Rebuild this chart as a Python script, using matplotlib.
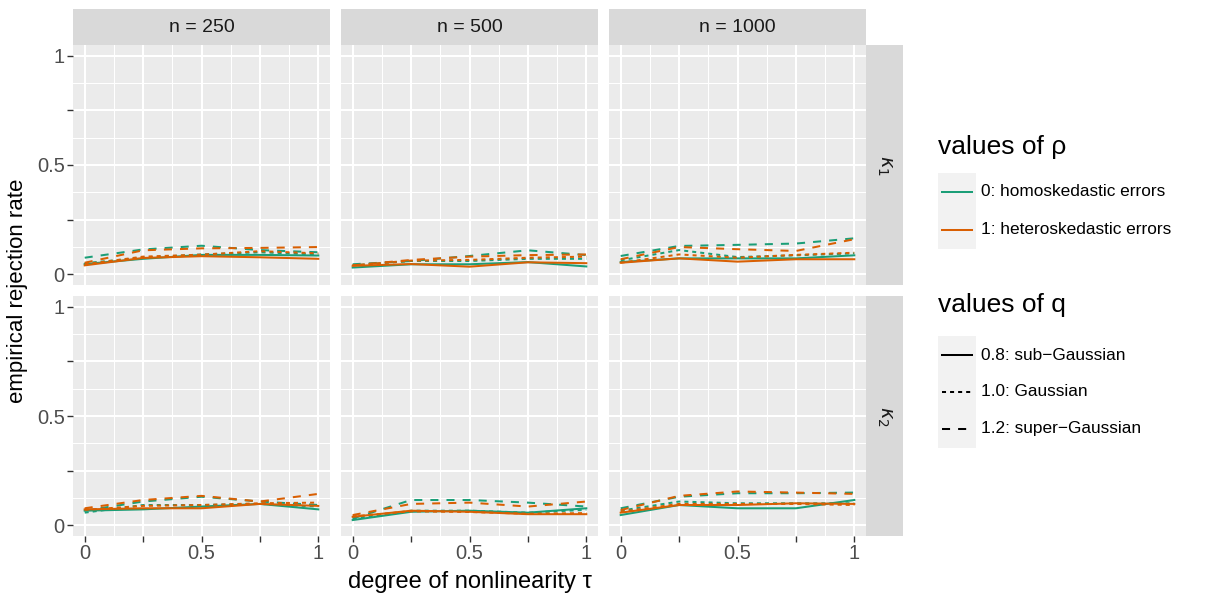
import matplotlib
matplotlib.use('Agg')
import matplotlib.pyplot as plt
from matplotlib.patches import Rectangle
from matplotlib.lines import Line2D

plt.rcParams['font.family'] = ['Liberation Sans', 'DejaVu Sans']

# данные
tau = [0, 0.25, 0.5, 0.75, 1]
n_labels = ['n = 250', 'n = 500', 'n = 1000']
kappa_labels = [r'$\kappa_1$', r'$\kappa_2$']
rho_labels = ['0: homoskedastic errors', '1: heteroskedastic errors']
q_labels = ['0.8: sub\u2212Gaussian', '1.0: Gaussian', '1.2: super\u2212Gaussian']

# строки: q = 0.8, 1.0, 1.2
k1_n250_homo = [[0.046, 0.070, 0.088, 0.088, 0.085],
                [0.050, 0.075, 0.090, 0.100, 0.090],
                [0.075, 0.113, 0.130, 0.110, 0.100]]
k1_n250_hetero = [[0.040, 0.074, 0.082, 0.077, 0.070],
                  [0.045, 0.080, 0.089, 0.105, 0.095],
                  [0.052, 0.109, 0.118, 0.120, 0.124]]
k1_n500_homo = [[0.030, 0.045, 0.045, 0.055, 0.035],
                [0.040, 0.060, 0.060, 0.070, 0.070],
                [0.045, 0.060, 0.083, 0.109, 0.087]]
k1_n500_hetero = [[0.038, 0.046, 0.034, 0.054, 0.050],
                  [0.040, 0.062, 0.065, 0.075, 0.080],
                  [0.040, 0.065, 0.080, 0.087, 0.090]]
k1_n1000_homo = [[0.055, 0.072, 0.072, 0.072, 0.086],
                 [0.063, 0.110, 0.078, 0.086, 0.095],
                 [0.083, 0.129, 0.134, 0.140, 0.164]]
k1_n1000_hetero = [[0.052, 0.072, 0.057, 0.068, 0.068],
                   [0.052, 0.090, 0.075, 0.088, 0.098],
                   [0.068, 0.124, 0.114, 0.106, 0.160]]
k2_n250_homo = [[0.066, 0.072, 0.085, 0.097, 0.072],
                [0.057, 0.092, 0.092, 0.097, 0.085],
                [0.066, 0.108, 0.130, 0.108, 0.092]]
k2_n250_hetero = [[0.072, 0.077, 0.077, 0.097, 0.088],
                  [0.070, 0.088, 0.092, 0.100, 0.103],
                  [0.077, 0.115, 0.134, 0.108, 0.143]]
k2_n500_homo = [[0.023, 0.061, 0.066, 0.057, 0.077],
                [0.030, 0.066, 0.066, 0.057, 0.070],
                [0.030, 0.115, 0.115, 0.103, 0.085]]
k2_n500_hetero = [[0.038, 0.066, 0.061, 0.050, 0.050],
                  [0.040, 0.063, 0.060, 0.052, 0.055],
                  [0.046, 0.097, 0.103, 0.085, 0.108]]
k2_n1000_homo = [[0.046, 0.092, 0.077, 0.077, 0.115],
                 [0.066, 0.108, 0.100, 0.100, 0.100],
                 [0.077, 0.130, 0.146, 0.146, 0.149]]
k2_n1000_hetero = [[0.057, 0.092, 0.092, 0.100, 0.097],
                   [0.061, 0.097, 0.097, 0.097, 0.092],
                   [0.069, 0.134, 0.154, 0.149, 0.143]]

panels = [[(k1_n250_homo, k1_n250_hetero), (k1_n500_homo, k1_n500_hetero), (k1_n1000_homo, k1_n1000_hetero)],
          [(k2_n250_homo, k2_n250_hetero), (k2_n500_homo, k2_n500_hetero), (k2_n1000_homo, k2_n1000_hetero)]]

colors = ['#1B9E77', '#D95F02']
dashes = [None, (2, 2), (4, 4)]
LW = 1.45

W, H = 1211, 599
fig = plt.figure(figsize=(W / 100, H / 100), dpi=100)


def px_axes(x0, y0, x1, y1):
    return fig.add_axes([x0 / W, 1 - y1 / H, (x1 - x0) / W, (y1 - y0) / H])


def style_line(line, d):
    if d is None:
        line.set_linestyle('-')
    else:
        line.set_dashes(d)


cols = [(73, 330), (341, 598), (609, 866)]
rows = [(45, 285), (296, 536)]

for r, (y0, y1) in enumerate(rows):
    for c, (x0, x1) in enumerate(cols):
        ax = px_axes(x0, y0, x1, y1)
        ax.set_facecolor('#EBEBEB')
        for s in ax.spines.values():
            s.set_visible(False)
        ax.set_xlim(-0.05, 1.05)
        ax.set_ylim(-0.05, 1.05)
        ax.set_xticks([0, 0.25, 0.5, 0.75, 1])
        ax.set_yticks([0, 0.25, 0.5, 0.75, 1])
        ax.set_xticks([0.125, 0.375, 0.625, 0.875], minor=True)
        ax.set_yticks([0.125, 0.375, 0.625, 0.875], minor=True)
        ax.set_axisbelow(True)
        ax.grid(which='major', color='white', lw=1.5)
        ax.grid(which='minor', color='white', lw=0.75)
        ax.tick_params(which='minor', length=0)
        ax.tick_params(which='major', length=4, width=1.0, color='#333333',
                       labelcolor='#4D4D4D', labelsize=14.5, pad=2)
        if c == 0:
            ax.set_yticklabels(['0', '', '0.5', '', '1'])
        else:
            ax.tick_params(axis='y', length=0, labelleft=False)
        if r == 1:
            ax.set_xticklabels(['0', '', '0.5', '', '1'])
        else:
            ax.tick_params(axis='x', length=0, labelbottom=False)

        for k, series in enumerate(panels[r][c]):
            for qi, vals in enumerate(series):
                ln, = ax.plot(tau, vals, color=colors[k], lw=LW)
                style_line(ln, dashes[qi])

# полосы facet
for c, (x0, x1) in enumerate(cols):
    sa = px_axes(x0, 9, x1, 45)
    sa.set_facecolor('#D9D9D9')
    sa.set_xticks([]); sa.set_yticks([])
    for s in sa.spines.values():
        s.set_visible(False)
    sa.text(0.5, 0.5, n_labels[c], ha='center', va='center', color='#1A1A1A',
            size=14, transform=sa.transAxes)

for r, (y0, y1) in enumerate(rows):
    sa = px_axes(866, y0, 903, y1)
    sa.set_facecolor('#D9D9D9')
    sa.set_xticks([]); sa.set_yticks([])
    for s in sa.spines.values():
        s.set_visible(False)
    sa.text(0.5, 0.5, kappa_labels[r], ha='center', va='center', color='#1A1A1A',
            size=14, rotation=-90, transform=sa.transAxes)

# подписи осей
fig.text(469.5 / W, 1 - 582 / H, 'degree of nonlinearity \u03c4', ha='center', va='center',
         size=17, color='black')
fig.text(18 / W, 1 - 290.5 / H, 'empirical rejection rate', ha='center', va='center',
         size=16, rotation=90, color='black')

# легенда
lg = fig.add_axes([0, 0, 1, 1])
lg.set_xlim(0, W)
lg.set_ylim(H, 0)
lg.axis('off')
lg.patch.set_alpha(0)

lg.text(938, 147, 'values of \u03c1', ha='left', va='center', size=19)
for i, lab in enumerate(rho_labels):
    yc = 192 + i * 37.5
    lg.add_patch(Rectangle((938, yc - 19), 38, 38, facecolor='#F2F2F2', edgecolor='none'))
    lg.add_line(Line2D([942, 972], [yc, yc], color=colors[i], lw=LW))
    lg.text(981, yc, lab, ha='left', va='center', size=12.4)

lg.text(938, 305, 'values of q', ha='left', va='center', size=19)
for i, lab in enumerate(q_labels):
    yc = 355 + i * 37
    lg.add_patch(Rectangle((938, yc - 19), 38, 38, facecolor='#F2F2F2', edgecolor='none'))
    ln = Line2D([942, 972], [yc, yc], color='black', lw=LW)
    style_line(ln, dashes[i])
    lg.add_line(ln)
    lg.text(981, yc, lab, ha='left', va='center', size=12.4)

fig.savefig('out.png', dpi=100)
